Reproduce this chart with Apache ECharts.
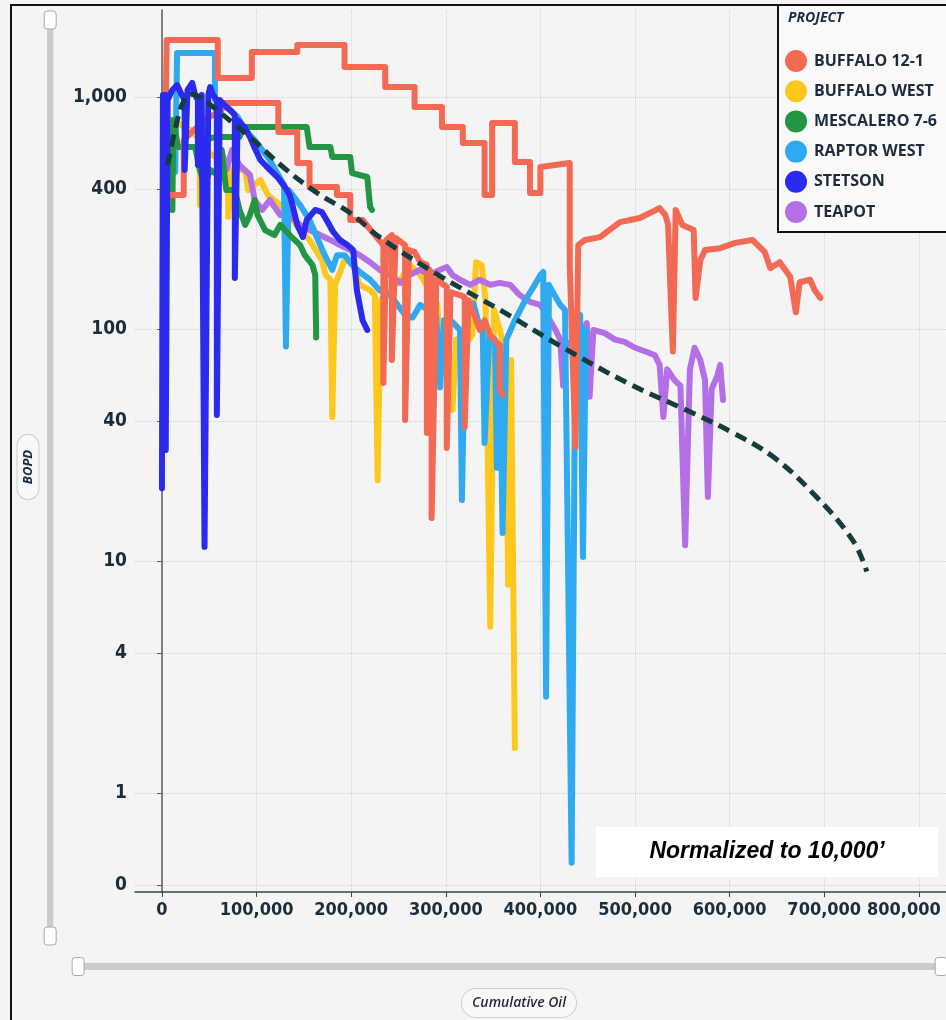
<!DOCTYPE html>
<html>
<head>
<meta charset="utf-8">
<title>BOPD vs Cumulative Oil</title>
<script src="https://cdn.jsdelivr.net/npm/echarts@6/dist/echarts.min.js"></script>
<style>
  html, body { margin: 0; padding: 0; background: #f4f4f4; }
  #chart { width: 946px; height: 1020px; }
</style>
</head>
<body>
<div id="chart"></div>
<script>
// axis ticks
const xTicks = [0, 100000, 200000, 300000, 400000, 500000, 600000, 700000, 800000]
const yTicks = [0.4, 1, 4, 10, 40, 100, 400, 1000]

// legend order
const projects = ['BUFFALO 12-1', 'BUFFALO WEST', 'MESCALERO 7-6', 'RAPTOR WEST', 'STETSON', 'TEAPOT']

// [cumulative oil, BOPD]
const buffalo121WellA = [[2000,198],[5000,1760],[59000,1760],[59000,1208],[95000,1208],[95000,1563],[143000,1563],[143000,1675],[193000,1675],[193000,1347],[236000,1347],[236000,1104],[267000,1104],[267000,906],[296000,906],[296000,742],[318000,742],[318000,634],[341000,634],[341000,378],[349000,378],[349000,773],[373000,773],[373000,525],[389000,525],[389000,386],[400000,386],[400000,499],[431000,519],[431000,189],[437000,31],[440000,230],[447000,242],[463000,249],[484000,289],[505000,301],[526000,332],[532000,310],[535000,281],[537000,166],[540000,80],[543000,326],[550000,281],[562000,267],[564000,136],[569000,198],[574000,219],[590000,223],[606000,235],[624000,242],[637000,215],[643000,183],[653000,194],[664000,168],[670000,118],[674000,159],[685000,163],[690000,147],[696000,136]]
const buffalo121WellB = [[3000,198],[6000,378],[23000,378],[23000,653],[45000,796],[63000,879],[63000,942],[123000,942],[123000,707],[143000,707],[143000,519],[156000,519],[156000,409],[185000,409],[185000,378],[199000,378],[199000,295],[212000,295],[225000,254],[234000,230],[234000,58.5],[237000,242],[243000,254],[243000,73.5],[247000,247],[257000,230],[257000,40.5],[261000,219],[267000,215],[273000,194],[280000,189],[280000,35.6],[283000,180],[285000,171],[285000,15.3],[290000,163],[301000,152],[301000,30.7],[305000,144],[315000,140],[320000,137],[320000,37.8],[324000,133],[336000,99],[341000,109],[347000,94],[357000,85],[357000,55],[360000,52]]
const buffaloWest = [[2000,219],[4000,820],[30000,721],[40000,653],[40000,342],[43000,591],[63000,535],[70000,494],[70000,304],[74000,485],[88000,485],[91000,397],[104000,439],[112000,378],[125000,342],[135000,310],[146000,267],[156000,242],[169000,198],[173000,171],[178000,163],[180000,41.7],[183000,155],[193000,198],[201000,194],[209000,155],[220000,147],[225000,140],[228000,22.3],[231000,133],[241000,147],[252000,163],[262000,189],[273000,171],[283000,147],[291000,127],[294000,73.5],[298000,109],[302000,99],[307000,44.8],[311000,90],[320000,85],[328000,94],[332000,194],[338000,189],[342000,133],[347000,5.2],[351000,121],[357000,99],[363000,78.8],[366000,7.9],[369000,73.5],[373000,1.56]]
const mescaleroWellA = [[11000,326],[12000,796],[17000,609],[37000,609],[40000,653],[58000,672],[82000,672],[86000,742],[153000,742],[156000,609],[178000,609],[180000,551],[199000,551],[201000,470],[217000,452],[220000,336],[222000,326]]
const mescaleroWellB = [[35000,609],[40000,485],[45000,418],[51000,485],[59000,461],[63000,591],[68000,397],[77000,397],[82000,326],[88000,281],[93000,310],[98000,360],[101000,310],[109000,267],[119000,254],[125000,281],[135000,254],[146000,230],[151000,208],[159000,189],[162000,171],[163000,92]]
const raptorWest = [[2000,208],[4000,475],[14000,475],[16000,1548],[56000,1548],[56000,971],[63000,923],[72000,879],[80000,820],[88000,721],[98000,653],[106000,591],[114000,535],[123000,461],[129000,418],[131000,84],[134000,397],[146000,342],[156000,295],[165000,242],[172000,208],[180000,180],[185000,208],[193000,208],[201000,189],[209000,176],[220000,163],[230000,147],[241000,140],[249000,127],[257000,115],[265000,112],[273000,127],[281000,121],[290000,112],[294000,56],[298000,109],[307000,107],[315000,99],[317000,18.3],[321000,121],[329000,129],[334000,109],[339000,99],[341000,32.3],[346000,94],[352000,90],[354000,25.2],[357000,85],[360000,13.2],[364000,90],[373000,109],[384000,133],[394000,155],[400000,171],[403000,176],[406000,2.6],[409000,155],[415000,140],[421000,127],[426000,121],[433000,0.5],[437000,109],[442000,115],[445000,10.4],[448000,99]]
const stetson = [[0,20.6],[1000,1020],[4000,1020],[4000,30.1],[6000,971],[11000,1072],[16000,1126],[21000,1020],[24000,971],[24000,485],[27000,1072],[32000,1149],[35000,1020],[38000,971],[38000,509],[42000,1020],[45000,11.5],[49000,1020],[51000,1104],[54000,1020],[58000,971],[58000,42.6],[61000,971],[66000,923],[72000,879],[77000,836],[77000,166],[80000,796],[88000,735],[93000,672],[98000,603],[104000,535],[114000,485],[122000,452],[130000,409],[135000,378],[138000,342],[143000,281],[149000,249],[153000,295],[162000,326],[169000,319],[174000,295],[181000,262],[188000,242],[196000,230],[202000,219],[206000,147],[212000,109],[217000,99]]
const teapot = [[63000,591],[68000,485],[74000,591],[82000,509],[93000,461],[98000,360],[106000,326],[114000,360],[125000,310],[135000,310],[146000,281],[156000,267],[167000,254],[178000,242],[188000,230],[199000,219],[209000,208],[220000,194],[230000,180],[241000,171],[252000,158],[262000,171],[273000,180],[283000,171],[294000,180],[301000,185],[307000,171],[315000,163],[326000,155],[336000,163],[347000,155],[357000,158],[368000,155],[378000,140],[389000,131],[400000,127],[410000,109],[416000,99],[421000,90],[424000,57],[427000,85],[437000,90],[444000,94],[449000,106],[452000,51],[456000,99],[468000,96],[479000,90],[489000,88],[500000,83],[511000,80],[521000,77],[526000,70],[530000,41.7],[534000,67],[542000,60],[548000,57],[553000,11.7],[558000,67],[563000,83],[569000,73.5],[574000,60],[577000,18.9],[581000,55],[587000,63],[590000,70],[593000,49.4]]
// normalized type curve (dashed)
const typeCurve = [[6000,509],[15000,757],[22000,942],[30000,1030],[40000,1000],[58000,879],[93000,672],[128000,499],[164000,386],[199000,316],[230000,249],[294000,169],[357000,121],[421000,84.5],[492000,58.5],[561000,43.4],[604000,35.6],[646000,28.1],[688000,19.6],[730000,12.3],[745000,9.0]]

const colors = {
  'BUFFALO 12-1': '#F26A54',
  'BUFFALO WEST': '#FCC81E',
  'MESCALERO 7-6': '#229642',
  'RAPTOR WEST': '#2FAAF0',
  'STETSON': '#2B2BEE',
  'TEAPOT': '#B46EE6',
}

const labelColor = '#1b2c3a'
const narrowFont = "'DejaVu Sans Condensed', 'Liberation Sans', sans-serif"

function wellLine(name, data) {
  return {
    name: name,
    type: 'line',
    data: data,
    showSymbol: false,
    symbol: 'none',
    color: colors[name],
    lineStyle: { width: 6, color: colors[name], join: 'round', cap: 'round' },
  }
}

const chart = echarts.init(document.getElementById('chart'))

const option = {
  animation: false,
  backgroundColor: '#f4f4f4',
  grid: { left: 135, right: 0, top: 10, bottom: 128, outerBoundsMode: 'none', containLabel: false },
  legend: {
    data: projects,
    orient: 'vertical',
    left: 785,
    top: 50,
    z: 20,
    itemWidth: 22,
    itemHeight: 22,
    itemGap: 8.2,
    icon: 'circle',
    padding: 0,
    textStyle: { fontFamily: 'Open Sans', fontWeight: 'bold', fontSize: 16, color: '#1d2b3c', padding: [0, 0, 0, 2] },
  },
  xAxis: {
    type: 'value',
    min: -28500,
    max: 828700,
    axisLine: { show: true, lineStyle: { color: '#2e4a42', width: 1.5 } },
    axisTick: { show: true, length: 5, customValues: xTicks, lineStyle: { color: '#2e4a42' } },
    axisLabel: {
      customValues: xTicks,
      margin: 9,
      hideOverlap: false,
      fontFamily: narrowFont,
      fontWeight: 'bold',
      fontSize: 18,
      color: labelColor,
      // the last label is pushed left so it stays inside the frame
      formatter: (v) => (v === 800000 ? '{last|' + v.toLocaleString('en-US') + '}' : v.toLocaleString('en-US')),
      rich: {
        last: { fontFamily: narrowFont, fontWeight: 'bold', fontSize: 18, color: labelColor, padding: [0, 30, 0, 0] },
      },
    },
    splitLine: { show: true, lineStyle: { color: '#d2d2d2', type: 'dotted', width: 1 } },
  },
  yAxis: {
    type: 'log',
    logBase: 10,
    min: 0.374,
    max: 2372,
    axisLine: { show: true, lineStyle: { color: '#5c5c5c', width: 1.5 } },
    axisTick: { show: true, length: 5, customValues: yTicks, lineStyle: { color: '#5c5c5c' } },
    axisLabel: {
      customValues: yTicks,
      margin: 8,
      fontFamily: narrowFont,
      fontWeight: 'bold',
      fontSize: 19,
      color: labelColor,
      formatter: (v) => (v < 1 ? '0' : Math.round(v).toLocaleString('en-US')),
    },
    splitLine: { show: true, lineStyle: { color: '#d2d2d2', type: 'dotted', width: 1 } },
  },
  dataZoom: [
    {
      type: 'slider',
      xAxisIndex: 0,
      filterMode: 'none',
      start: 0,
      end: 100,
      left: 76,
      right: 5,
      bottom: 50,
      height: 7,
      showDetail: false,
      showDataShadow: false,
      brushSelect: false,
      moveHandleSize: 0,
      backgroundColor: '#cbcbcb',
      borderColor: 'transparent',
      fillerColor: '#cbcbcb',
      handleIcon: 'path://M3,0 H9 A3,3 0 0 1 12,3 V15 A3,3 0 0 1 9,18 H3 A3,3 0 0 1 0,15 V3 A3,3 0 0 1 3,0 Z',
      handleSize: '257%',
      handleStyle: { color: '#ffffff', borderColor: '#a8a8a8', borderWidth: 1 },
    },
    {
      type: 'slider',
      yAxisIndex: 0,
      orient: 'vertical',
      filterMode: 'none',
      start: 0,
      end: 100,
      left: 47,
      width: 6,
      top: 19,
      bottom: 83,
      showDetail: false,
      showDataShadow: false,
      brushSelect: false,
      moveHandleSize: 0,
      backgroundColor: '#cbcbcb',
      borderColor: 'transparent',
      fillerColor: '#cbcbcb',
      handleIcon: 'path://M3,0 H15 A3,3 0 0 1 18,3 V9 A3,3 0 0 1 15,12 H3 A3,3 0 0 1 0,9 V3 A3,3 0 0 1 3,0 Z',
      handleSize: '300%',
      handleStyle: { color: '#ffffff', borderColor: '#a8a8a8', borderWidth: 1 },
    },
  ],
  graphic: [
    // outer frame
    { type: 'rect', shape: { x: 11, y: 5, width: 945, height: 1030 }, style: { fill: 'none', stroke: '#111', lineWidth: 2 }, silent: true },
    // legend box
    { type: 'rect', shape: { x: 778, y: 5, width: 180, height: 227 }, style: { fill: '#f9f9f9', stroke: '#111', lineWidth: 2 }, z: 5, silent: true },
    { type: 'text', x: 788, y: 11, style: { text: 'PROJECT', font: 'italic bold 14px "Open Sans"', fill: '#1d2a48' }, z: 6, silent: true },
    // note box
    { type: 'rect', shape: { x: 596, y: 827, width: 342, height: 50 }, style: { fill: '#ffffff' }, z: 5, silent: true },
    { type: 'text', x: 767, y: 852, style: { text: 'Normalized to 10,000\u2019', font: 'italic bold 23px "Liberation Sans", Arial, sans-serif', fill: '#000', align: 'center', verticalAlign: 'middle' }, z: 6, silent: true },
    // axis names
    {
      type: 'text', x: 28, y: 467, rotation: Math.PI / 2, z: 6, silent: true,
      style: { text: 'BOPD', font: 'italic bold 13px "Open Sans"', fill: '#1d2a3a', align: 'center', verticalAlign: 'middle',
        backgroundColor: '#f8f8f8', borderColor: '#cfcfcf', borderWidth: 1, borderRadius: 11, padding: [4, 15] },
    },
    {
      type: 'text', x: 519, y: 1003, z: 6, silent: true,
      style: { text: 'Cumulative Oil', font: 'italic 600 14px "Open Sans"', fill: '#1d2a3a', align: 'center', verticalAlign: 'middle',
        backgroundColor: '#f8f8f8', borderColor: '#cfcfcf', borderWidth: 1, borderRadius: 14, padding: [7, 10] },
    },
  ],
  series: [
    wellLine('BUFFALO WEST', buffaloWest),
    wellLine('TEAPOT', teapot),
    wellLine('RAPTOR WEST', raptorWest),
    wellLine('MESCALERO 7-6', mescaleroWellB),
    wellLine('MESCALERO 7-6', mescaleroWellA),
    wellLine('BUFFALO 12-1', buffalo121WellB),
    wellLine('BUFFALO 12-1', buffalo121WellA),
    wellLine('STETSON', stetson),
    {
      name: 'Type Curve',
      type: 'line',
      data: typeCurve,
      smooth: 0.4,
      showSymbol: false,
      symbol: 'none',
      color: '#163c3e',
      lineStyle: { width: 5, color: '#163c3e', type: [12, 7] },
      z: 3,
    },
  ],
}

chart.setOption(option)
</script>
</body>
</html>
